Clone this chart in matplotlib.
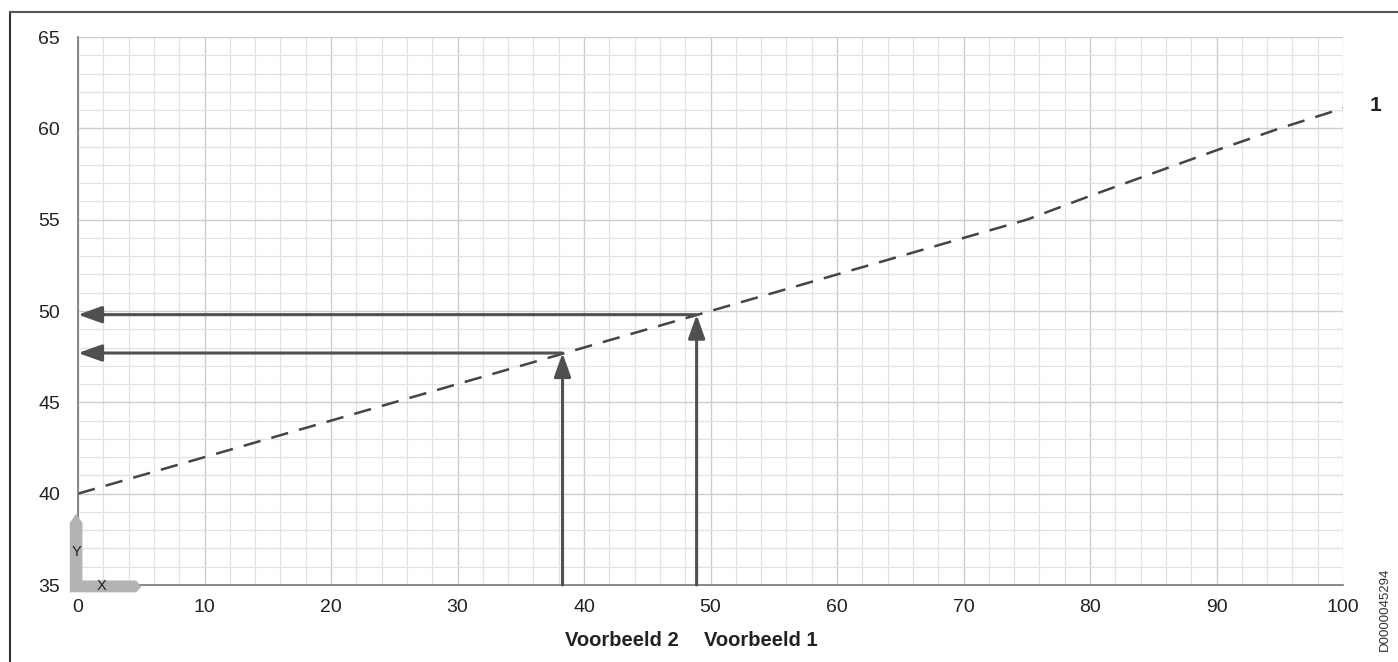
import matplotlib.pyplot as plt
from matplotlib.patches import Polygon
from matplotlib.lines import Line2D

plt.rcParams['font.family'] = ['Liberation Sans', 'DejaVu Sans']

# curve 1 (dashed)
curve_x = [0, 10, 20, 30, 40, 50, 60, 70, 75, 80, 90, 95, 100]
curve_y = [40, 42, 44, 46, 48, 50, 52, 54, 55, 56.3, 58.8, 60.0, 61.1]

# example readings
example_names = ['Voorbeeld 2', 'Voorbeeld 1']
example_x = [38.3, 48.9]
example_y = [47.7, 49.8]

x_ticks = list(range(0, 101, 10))
y_ticks = list(range(35, 66, 5))

fig = plt.figure(figsize=(13.98, 6.62), dpi=100)
ax = fig.add_axes([0.0558, 0.1163, 0.9049, 0.8278])

ax.set_xlim(0, 100)
ax.set_ylim(35, 65)
ax.set_xticks(x_ticks)
ax.set_yticks(y_ticks)
ax.set_xticks(range(0, 101, 2), minor=True)
ax.set_yticks(range(35, 66, 1), minor=True)
ax.grid(which='major', color='#cdcdcd', linewidth=1.0)
ax.grid(which='minor', color='#e2e2e2', linewidth=0.9)
ax.set_axisbelow(True)
ax.tick_params(which='both', length=0, labelsize=14, labelcolor='#222222')
ax.tick_params(axis='x', pad=10)
ax.tick_params(axis='y', pad=13)
for s in ['top', 'right']:
    ax.spines[s].set_visible(False)
for s in ['left', 'bottom']:
    ax.spines[s].set_color('#777777')
    ax.spines[s].set_linewidth(1.2)

ax.plot(curve_x, curve_y, color='#444444', linewidth=1.8, dashes=(7, 4.5))

# reading arrows
astyle = '-|>,head_length=0.9,head_width=0.32'
for ex, ey in zip(example_x, example_y):
    ax.annotate('', xy=(ex, ey), xytext=(ex, 35),
                arrowprops=dict(arrowstyle=astyle, color='#505050', lw=2.2,
                                mutation_scale=16, shrinkA=0, shrinkB=0))
    ax.annotate('', xy=(0, ey), xytext=(ex, ey),
                arrowprops=dict(arrowstyle=astyle, color='#505050', lw=2.2,
                                mutation_scale=16, shrinkA=0, shrinkB=0))

# labels under axis
ax.text(38.5, -0.102, example_names[0], transform=ax.get_xaxis_transform(),
        ha='left', va='center', fontsize=14.5, fontweight='bold', color='#222222')
ax.text(58.5, -0.102, example_names[1], transform=ax.get_xaxis_transform(),
        ha='right', va='center', fontsize=14.5, fontweight='bold', color='#222222')

ax.text(102.1, 61.25, '1', ha='left', va='center', fontsize=15,
        fontweight='bold', color='#222222', clip_on=False)

# small XY symbol at the origin
trans = ax.transData
sym = Polygon([(-0.65, 34.6), (-0.65, 38.4), (-0.15, 38.9), (0.35, 38.4),
               (0.35, 35.25), (4.6, 35.25), (5.0, 34.9), (4.6, 34.6)],
              closed=True, facecolor='#b3b3b3', edgecolor='none',
              clip_on=False, zorder=3, transform=trans)
ax.add_patch(sym)
ax.text(-0.15, 36.8, 'Y', ha='center', va='center', fontsize=10.5, zorder=4,
        color='#222222')
ax.text(1.9, 34.92, 'X', ha='center', va='center', fontsize=10.5, zorder=4,
        color='#222222', clip_on=False)

fig.text(0.9905, 0.08, 'D0000045294', rotation=90, ha='center', va='center',
         fontsize=9.5, color='#333333')

# frame lines of the figure
fig.add_artist(Line2D([0.0072, 0.0072], [0, 0.982], color='#333333', lw=1.5))
fig.add_artist(Line2D([0.0072, 1], [0.982, 0.982], color='#555555', lw=1.5))

fig.savefig('out.png', dpi=100)
